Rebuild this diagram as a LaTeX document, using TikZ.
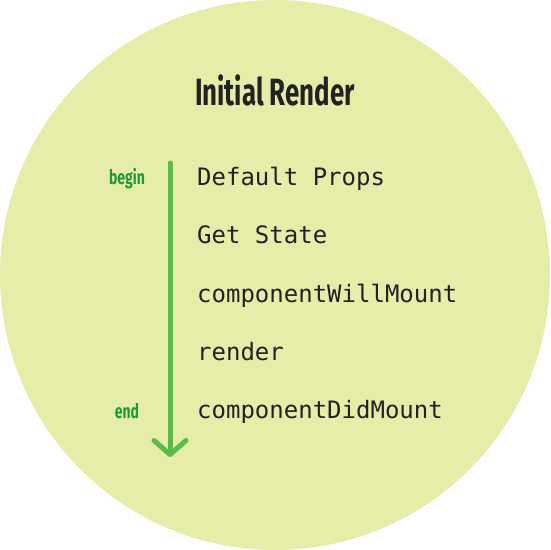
\documentclass[tikz,border=0pt]{standalone}
\usepackage{fontspec}
\setmonofont{DejaVu Sans Mono}
\newfontfamily\titlefont{Fira Sans}
\usetikzlibrary{arrows.meta}

\definecolor{bgcircle}{HTML}{E6EDA9}
\definecolor{arrowgreen}{HTML}{5DBA47}
\definecolor{labelgreen}{HTML}{1E9A3A}
\definecolor{textdark}{HTML}{222222}

\tikzset{
  stage/.style={anchor=base west,inner sep=0pt,font=\ttfamily\fontsize{24}{24}\selectfont,text=textdark},
  marker/.style={anchor=base,inner sep=0pt,font=\titlefont\bfseries\fontsize{20}{20}\selectfont,text=labelgreen},
}

\begin{document}
\begin{tikzpicture}[x=1pt,y=-1pt]
  \useasboundingbox (0,0) rectangle (550,550);
  \fill[bgcircle] (275,275) circle (275);

  % title
  \node[anchor=base,inner sep=0pt,text=textdark,font=\titlefont\bfseries\fontsize{38}{38}\selectfont]
    (title) at (275,105) {\scalebox{0.68}[1]{Initial Render}};

  % lifecycle
  \node[stage] (props) at (197,185) {Default Props};
  \node[stage] (state) at (197,243) {Get State};
  \node[stage] (willmount) at (197,302) {componentWillMount};
  \node[stage] (render) at (197,360) {render};
  \node[stage] (didmount) at (197,418) {componentDidMount};

  % begin / end
  \node[marker] (begin) at (127,184) {\scalebox{0.7}[1]{begin}};
  \node[marker] (end) at (127,418) {\scalebox{0.7}[1]{end}};

  \coordinate (top) at (170,163);
  \coordinate (bottom) at (170,457);
  \draw[arrowgreen,line width=5pt,line cap=round,
    -{Straight Barb[length=14pt,width=32pt,line width=5pt,round]}] (top) -- (bottom);
\end{tikzpicture}
\end{document}
